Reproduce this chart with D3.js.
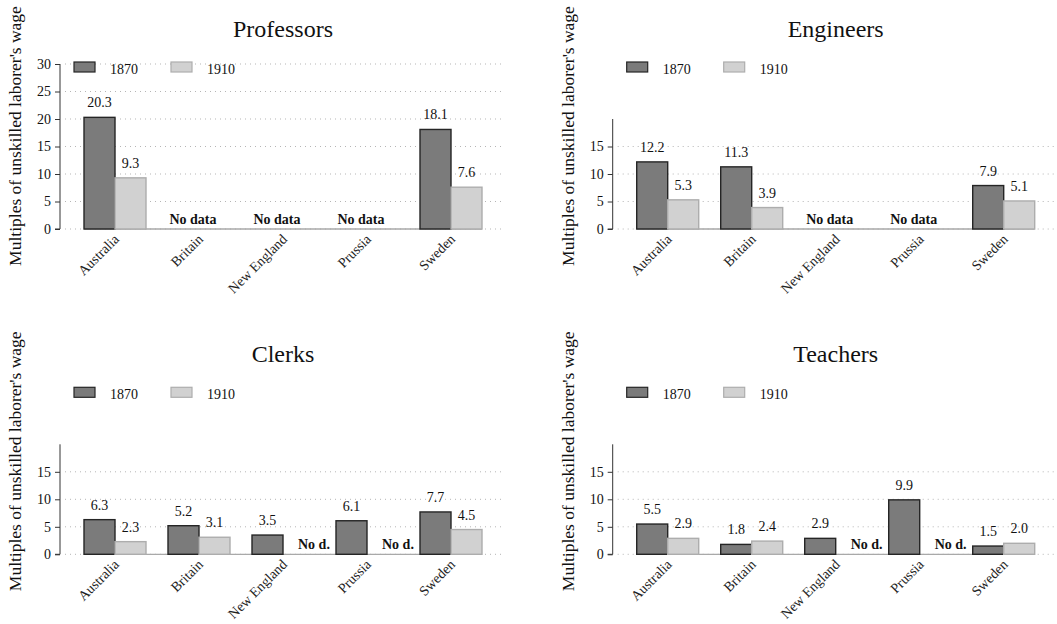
<!DOCTYPE html>
<html><head><meta charset="utf-8">
<script src="https://cdn.jsdelivr.net/npm/d3@7"></script>
<style>body{margin:0;background:#fff;}svg{display:block;} svg text{font-family:"Liberation Serif","Times New Roman",Times,serif;}</style>
</head><body>
<svg id="chart" width="1057" height="624"></svg>
<script>
const categories = ["Australia", "Britain", "New England", "Prussia", "Sweden"];
const years = ["1870", "1910"];
const titles = ["Professors", "Engineers", "Clerks", "Teachers"];
const professors1870 = [20.3, null, null, null, 18.1];
const professors1910 = [9.3, null, null, null, 7.6];
const engineers1870 = [12.2, 11.3, null, null, 7.9];
const engineers1910 = [5.3, 3.9, null, null, 5.1];
const clerks1870 = [6.3, 5.2, 3.5, 6.1, 7.7];
const clerks1910 = [2.3, 3.1, null, null, 4.5];
const teachers1870 = [5.5, 1.8, 2.9, 9.9, 1.5];
const teachers1910 = [2.9, 2.4, null, null, 2.0];
const yMaxes = [30, 20, 20, 20];
const yTicksList = [[0, 5, 10, 15, 20, 25, 30], [0, 5, 10, 15], [0, 5, 10, 15], [0, 5, 10, 15]];
const yLabel = "Multiples of unskilled laborer's wage";

const series = [
  [professors1870, professors1910],
  [engineers1870, engineers1910],
  [clerks1870, clerks1910],
  [teachers1870, teachers1910]
];
const origins = [[60, 229], [612.7, 229], [60, 554.3], [612.7, 554.3]];
const fills = {"1870": "#7b7b7b", "1910": "#d1d1d1"};
const strokes = {"1870": "#252525", "1910": "#adadad"};

const svg = d3.select("#chart");
const pxPerUnit = 5.5;

titles.forEach((title, i) => {
  const [ox, oy] = origins[i];
  const g = svg.append("g");
  const yMax = yMaxes[i];
  const y = d3.scaleLinear().domain([0, yMax]).range([oy, oy - yMax * pxPerUnit]);
  const x = d3.scalePoint().domain(categories).range([ox + 55, ox + 391]);
  const xs = d3.scaleBand().domain(years).range([-31, 31]);
  const allCats = series[i];

  g.selectAll(".grid").data(yTicksList[i]).enter().append("line")
    .attr("x1", ox + 5).attr("x2", ox + 443)
    .attr("y1", d => y(d)).attr("y2", d => y(d))
    .attr("stroke", "#b5b5b5").attr("stroke-width", 1).attr("stroke-dasharray", "1,4");

  g.append("line")
    .attr("x1", x(categories[0]) - 31).attr("x2", x(categories[categories.length - 1]) + 31)
    .attr("y1", y(0)).attr("y2", y(0))
    .attr("stroke", "#a9a9a9").attr("stroke-width", 1.3);

  const axis = d3.axisLeft(y).tickValues(yTicksList[i]).tickSize(5).tickPadding(4).tickFormat(d3.format("d"));
  const ag = g.append("g").attr("transform", `translate(${ox},0)`).call(axis);
  ag.attr("font-family", null);
  ag.select(".domain").attr("stroke", "#333").attr("d", `M-5,${y(0)}H0V${y(yMax)}`);
  ag.selectAll(".tick line").attr("stroke", "#333");
  ag.selectAll("text").attr("font-size", 14).attr("fill", "#111");

  years.forEach((yr, k) => {
    const vals = allCats[k];
    categories.forEach((c, j) => {
      const v = vals[j];
      if (v == null) return;
      const bx = x(c) + xs(yr);
      g.append("rect")
        .attr("x", bx).attr("y", y(v))
        .attr("width", xs.bandwidth()).attr("height", y(0) - y(v))
        .attr("fill", fills[yr]).attr("stroke", strokes[yr]).attr("stroke-width", 1.4);
      g.append("text")
        .attr("x", bx + xs.bandwidth() / 2).attr("y", y(v) - 10)
        .attr("text-anchor", "middle").attr("font-size", 14).attr("fill", "#111")
        .text(v.toFixed(1));
    });
  });

  categories.forEach((c, j) => {
    const a = allCats[0][j], b = allCats[1][j];
    if (a == null && b == null) {
      g.append("text").attr("x", x(c) - 6).attr("y", y(0) - 5)
        .attr("text-anchor", "middle").attr("font-size", 14).attr("font-weight", "bold").attr("fill", "#111")
        .text("No data");
    } else if (b == null) {
      g.append("text").attr("x", x(c) + 15).attr("y", y(0) - 5)
        .attr("text-anchor", "start").attr("font-size", 14).attr("font-weight", "bold").attr("fill", "#111")
        .text("No d.");
    }
  });

  categories.forEach(c => {
    g.append("text")
      .attr("transform", `translate(${x(c) + 5},${oy + 11}) rotate(-45)`)
      .attr("text-anchor", "end").attr("font-size", 14).attr("fill", "#222")
      .text(c);
  });

  g.append("text").attr("x", ox + 223).attr("y", oy - 192)
    .attr("text-anchor", "middle").attr("font-size", 24).attr("fill", "#111").text(title);

  years.forEach((yr, k) => {
    const lx = ox + 14 + k * 97;
    g.append("rect").attr("x", lx).attr("y", oy - 167).attr("width", 21).attr("height", 10)
      .attr("fill", fills[yr]).attr("stroke", strokes[yr]).attr("stroke-width", 1.2);
    g.append("text").attr("x", lx + 36).attr("y", oy - 155)
      .attr("font-size", 14).attr("fill", "#111").text(yr);
  });

  g.append("text")
    .attr("transform", `translate(${ox - 39},${oy - 93}) rotate(-90)`)
    .attr("text-anchor", "middle").attr("font-size", 17.5).attr("fill", "#111")
    .text(yLabel);
});
</script>
</body></html>
